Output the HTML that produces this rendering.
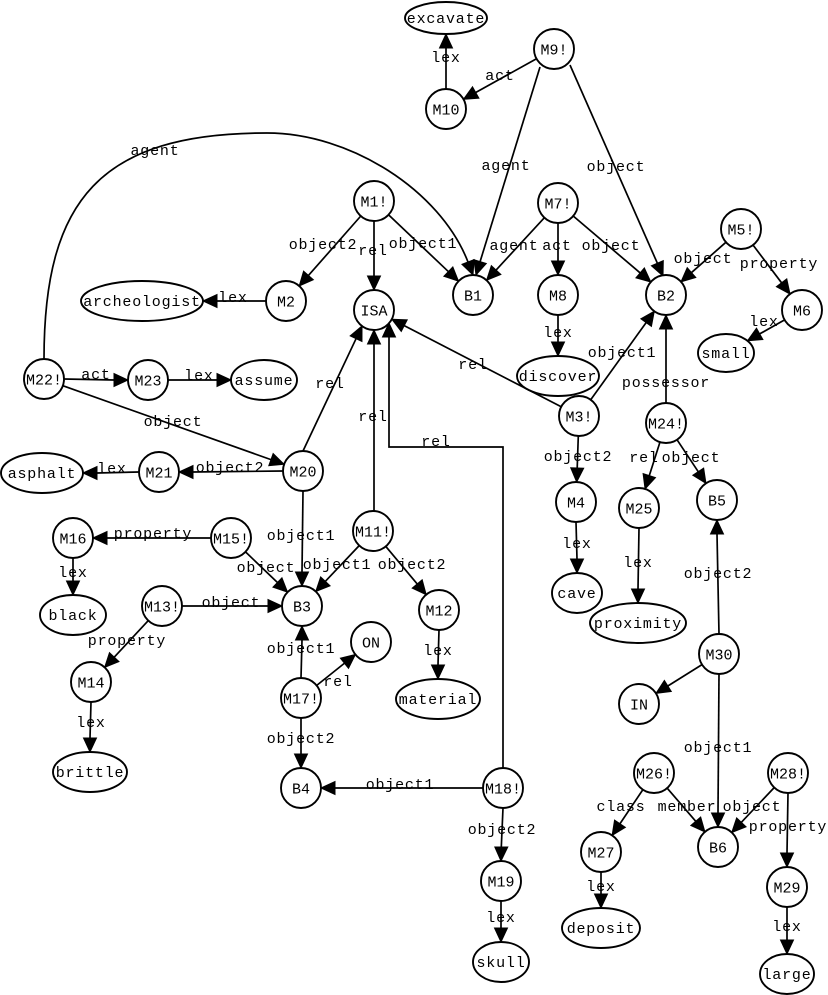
<!DOCTYPE html>
<html><head><meta charset="utf-8"><style>
html,body{margin:0;padding:0;background:#fff;}
svg{display:block;}
text{font-family:"Liberation Mono","DejaVu Sans Mono",monospace;font-size:15px;fill:#000;text-anchor:middle;}
.e{letter-spacing:0.8px;}
.n{letter-spacing:0px;}
</style></head><body>
<svg width="828" height="995" viewBox="0 0 828 995" xmlns="http://www.w3.org/2000/svg">
<rect width="828" height="995" fill="#fff"/>
<g fill="none" stroke="#000" stroke-width="1.7">
<line x1="446" y1="89" x2="446" y2="48"/>
<line x1="536.5" y1="58.7" x2="475.7" y2="92.5"/>
<line x1="540" y1="67" x2="480.1" y2="261.6"/>
<line x1="570" y1="65" x2="657.35" y2="263.19"/>
<line x1="360.8" y1="216" x2="308.45" y2="275.49"/>
<line x1="374" y1="221" x2="374" y2="276"/>
<line x1="388.5" y1="214.8" x2="448.35" y2="271.56"/>
<line x1="266" y1="301" x2="217" y2="301"/>
<line x1="544.4" y1="217.7" x2="496.1" y2="270.02"/>
<line x1="558" y1="223" x2="558" y2="261"/>
<line x1="573.2" y1="216" x2="640.14" y2="272.92"/>
<line x1="726" y1="242.2" x2="691.51" y2="272.55"/>
<line x1="753" y1="245" x2="781.58" y2="282.82"/>
<line x1="784.6" y1="319.85" x2="759.69" y2="333.9"/>
<line x1="558" y1="315" x2="558" y2="342"/>
<line x1="590.7" y1="399.8" x2="646.13" y2="322.57"/>
<line x1="666" y1="403" x2="666" y2="329"/>
<line x1="561.2" y1="406.8" x2="404.23" y2="325.63"/>
<line x1="578.3" y1="436" x2="577.2" y2="468"/>
<line x1="660" y1="442" x2="649.29" y2="475.6"/>
<line x1="677" y1="439.7" x2="698.23" y2="471.66"/>
<line x1="576" y1="522" x2="577" y2="559"/>
<line x1="639" y1="528" x2="638" y2="589"/>
<line x1="719" y1="634" x2="717" y2="534"/>
<line x1="702" y1="664.6" x2="667.83" y2="685.98"/>
<line x1="719" y1="674" x2="718" y2="813"/>
<line x1="642.9" y1="789.6" x2="619.95" y2="823.76"/>
<line x1="667.1" y1="788.1" x2="695.75" y2="821.28"/>
<line x1="774.3" y1="787.5" x2="741.36" y2="822.31"/>
<line x1="788" y1="793" x2="787" y2="853"/>
<line x1="601" y1="872" x2="601" y2="894"/>
<line x1="787" y1="907" x2="787" y2="940"/>
<line x1="503" y1="808" x2="501.3" y2="847"/>
<line x1="501" y1="901" x2="501" y2="928"/>
<line x1="483" y1="788" x2="335" y2="788"/>
<polyline points="503,768 503,447 389,447 389,337"/>
<line x1="301" y1="678" x2="302" y2="640"/>
<line x1="316.6" y1="685.5" x2="344.45" y2="663.25"/>
<line x1="301" y1="718" x2="301" y2="754"/>
<line x1="359.3" y1="545.5" x2="325.37" y2="581.31"/>
<line x1="385.8" y1="546.4" x2="417.19" y2="583.9"/>
<line x1="374" y1="511" x2="374" y2="344"/>
<line x1="439" y1="630" x2="438" y2="665"/>
<line x1="303" y1="491" x2="302" y2="572"/>
<line x1="303" y1="451" x2="356.06" y2="338.68"/>
<line x1="283" y1="471" x2="193" y2="472"/>
<line x1="139" y1="472" x2="97" y2="473"/>
<line x1="64" y1="379" x2="114" y2="380"/>
<line x1="168" y1="380" x2="217" y2="380"/>
<line x1="62.8" y1="385.7" x2="270.97" y2="459.62"/>
<path d="M44,359 C44,200 100,133 267,133 C350,133 440,190 468,262"/>
<line x1="211" y1="538" x2="107" y2="538"/>
<line x1="245.4" y1="551.8" x2="277.44" y2="582.47"/>
<line x1="73" y1="558" x2="73" y2="581"/>
<line x1="182" y1="606" x2="268" y2="606"/>
<line x1="148.3" y1="620.6" x2="114.21" y2="657.15"/>
<line x1="91" y1="702" x2="90" y2="738"/>
</g>
<g fill="#000" stroke="#000" stroke-width="1" stroke-linejoin="miter">
<polygon points="446,34 439.5,48 452.5,48"/>
<polygon points="463.5,99.3 472.5,86.8 478.9,98.2"/>
<polygon points="476,275 473.9,259.7 486.3,263.5"/>
<polygon points="663,276 651.4,265.8 663.3,260.6"/>
<polygon points="299.2,286 303.57,271.2 313.33,279.78"/>
<polygon points="374,290 367.5,276 380.5,276"/>
<polygon points="458.5,281.2 443.87,276.27 452.83,266.85"/>
<polygon points="203,301 217,294.5 217,307.5"/>
<polygon points="486.6,280.3 491.33,265.61 500.87,274.43"/>
<polygon points="558,275 551.5,261 564.5,261"/>
<polygon points="650.8,282 635.93,277.87 644.35,267.97"/>
<polygon points="681,281.8 687.22,267.67 695.8,277.43"/>
<polygon points="790,294 776.39,286.73 786.77,278.91"/>
<polygon points="747.5,340.8 756.49,328.24 762.89,339.56"/>
<polygon points="558,356 551.5,342 564.5,342"/>
<polygon points="654.3,311.2 651.41,326.37 640.85,318.77"/>
<polygon points="666,315 659.5,329 672.5,329"/>
<polygon points="391.8,319.2 407.22,319.86 401.24,331.4"/>
<polygon points="576.7,482 570.7,467.8 583.7,468.2"/>
<polygon points="645.05,488.94 643.1,473.63 655.48,477.57"/>
<polygon points="705.96,483.33 692.81,475.25 703.65,468.07"/>
<polygon points="577,573 570.5,559 583.5,559"/>
<polygon points="638,603 631.5,589 644.5,589"/>
<polygon points="717,520 710.5,534 723.5,534"/>
<polygon points="655.96,693.4 664.38,680.47 671.28,691.49"/>
<polygon points="718,827 711.5,813 724.5,813"/>
<polygon points="612.15,835.39 614.55,820.14 625.35,827.38"/>
<polygon points="704.91,831.87 690.83,825.53 700.67,817.03"/>
<polygon points="731.74,832.48 736.64,817.84 746.08,826.78"/>
<polygon points="787,867 780.5,853 793.5,853"/>
<polygon points="601,908 594.5,894 607.5,894"/>
<polygon points="787,954 780.5,940 793.5,940"/>
<polygon points="501,861 494.8,847 507.8,847"/>
<polygon points="501,942 494.5,928 507.5,928"/>
<polygon points="321,788 335,781.5 335,794.5"/>
<polygon points="389,323 382.5,337 395.5,337"/>
<polygon points="302,626 295.5,640 308.5,640"/>
<polygon points="355.38,654.5 348.51,668.33 340.39,658.17"/>
<polygon points="301,768 294.5,754 307.5,754"/>
<polygon points="315.75,591.48 320.65,576.84 330.09,585.78"/>
<polygon points="426.17,594.65 412.2,588.07 422.18,579.73"/>
<polygon points="374,330 367.5,344 380.5,344"/>
<polygon points="438,679 431.5,665 444.5,665"/>
<polygon points="302,586 295.5,572 308.5,572"/>
<polygon points="362,326 361.95,341.44 350.17,335.92"/>
<polygon points="179,472 193,465.5 193,478.5"/>
<polygon points="83,473 97,466.5 97,479.5"/>
<polygon points="128,380 114,373.5 114,386.5"/>
<polygon points="231,380 217,373.5 217,386.5"/>
<polygon points="284.16,464.31 268.79,465.74 273.15,453.5"/>
<polygon points="473,275 461.94,264.36 474.06,259.64"/>
<polygon points="93,538 107,531.5 107,544.5"/>
<polygon points="287.55,592.16 272.94,587.16 281.94,577.78"/>
<polygon points="73,595 66.5,581 79.5,581"/>
<polygon points="282,606 268,599.5 268,612.5"/>
<polygon points="104.65,667.38 109.46,652.71 118.96,661.59"/>
<polygon points="90,752 83.5,738 96.5,738"/>
</g>
<g fill="#fff" stroke="#000" stroke-width="1.9">
<circle cx="554" cy="49" r="20"/>
<circle cx="446" cy="109" r="20"/>
<circle cx="374" cy="201" r="20"/>
<circle cx="286" cy="301" r="20"/>
<circle cx="374" cy="310" r="20"/>
<circle cx="473" cy="295" r="20"/>
<circle cx="558" cy="203" r="20"/>
<circle cx="558" cy="295" r="20"/>
<circle cx="666" cy="295" r="20"/>
<circle cx="741" cy="229" r="20"/>
<circle cx="802" cy="310" r="20"/>
<circle cx="44" cy="379" r="20"/>
<circle cx="148" cy="380" r="20"/>
<circle cx="303" cy="471" r="20"/>
<circle cx="159" cy="472" r="20"/>
<circle cx="579" cy="416" r="20"/>
<circle cx="666" cy="423" r="20"/>
<circle cx="576" cy="502" r="20"/>
<circle cx="639" cy="508" r="20"/>
<circle cx="717" cy="500" r="20"/>
<circle cx="73" cy="538" r="20"/>
<circle cx="231" cy="538" r="20"/>
<circle cx="373" cy="531" r="20"/>
<circle cx="162" cy="606" r="20"/>
<circle cx="302" cy="606" r="20"/>
<circle cx="439" cy="610" r="20"/>
<circle cx="371" cy="642" r="20"/>
<circle cx="719" cy="654" r="20"/>
<circle cx="91" cy="682" r="20"/>
<circle cx="301" cy="698" r="20"/>
<circle cx="639" cy="704" r="20"/>
<circle cx="654" cy="773" r="20"/>
<circle cx="788" cy="773" r="20"/>
<circle cx="301" cy="788" r="20"/>
<circle cx="503" cy="788" r="20"/>
<circle cx="718" cy="847" r="20"/>
<circle cx="601" cy="852" r="20"/>
<circle cx="501" cy="881" r="20"/>
<circle cx="787" cy="887" r="20"/>
<ellipse cx="446" cy="18" rx="41" ry="16"/>
<ellipse cx="142" cy="301" rx="61" ry="20"/>
<ellipse cx="726" cy="353" rx="28" ry="19"/>
<ellipse cx="558" cy="376" rx="41" ry="20"/>
<ellipse cx="264" cy="380" rx="33" ry="20"/>
<ellipse cx="42" cy="473" rx="41" ry="20"/>
<ellipse cx="577" cy="593" rx="25" ry="20"/>
<ellipse cx="73" cy="615" rx="33" ry="20"/>
<ellipse cx="638" cy="623" rx="48" ry="20"/>
<ellipse cx="438" cy="699" rx="42" ry="20"/>
<ellipse cx="90" cy="772" rx="37" ry="20"/>
<ellipse cx="601" cy="928" rx="39" ry="20"/>
<ellipse cx="501" cy="962" rx="28" ry="20"/>
<ellipse cx="787" cy="974" rx="27" ry="20"/>
</g>
<g class="n">
<text x="554" y="54.5">M9!</text>
<text x="446" y="114.5">M10</text>
<text x="374" y="206.5">M1!</text>
<text x="286" y="306.5">M2</text>
<text x="374" y="315.5">ISA</text>
<text x="473" y="300.5">B1</text>
<text x="558" y="208.5">M7!</text>
<text x="558" y="300.5">M8</text>
<text x="666" y="300.5">B2</text>
<text x="741" y="234.5">M5!</text>
<text x="802" y="315.5">M6</text>
<text x="44" y="384.5">M22!</text>
<text x="148" y="385.5">M23</text>
<text x="303" y="476.5">M20</text>
<text x="159" y="477.5">M21</text>
<text x="579" y="421.5">M3!</text>
<text x="666" y="428.5">M24!</text>
<text x="576" y="507.5">M4</text>
<text x="639" y="513.5">M25</text>
<text x="717" y="505.5">B5</text>
<text x="73" y="543.5">M16</text>
<text x="231" y="543.5">M15!</text>
<text x="373" y="536.5">M11!</text>
<text x="162" y="611.5">M13!</text>
<text x="302" y="611.5">B3</text>
<text x="439" y="615.5">M12</text>
<text x="371" y="647.5">ON</text>
<text x="719" y="659.5">M30</text>
<text x="91" y="687.5">M14</text>
<text x="301" y="703.5">M17!</text>
<text x="639" y="709.5">IN</text>
<text x="654" y="778.5">M26!</text>
<text x="788" y="778.5">M28!</text>
<text x="301" y="793.5">B4</text>
<text x="503" y="793.5">M18!</text>
<text x="718" y="852.5">B6</text>
<text x="601" y="857.5">M27</text>
<text x="501" y="886.5">M19</text>
<text x="787" y="892.5">M29</text>
</g>
<g class="e">
<text x="446" y="23">excavate</text>
<text x="142" y="306">archeologist</text>
<text x="726" y="358">small</text>
<text x="558" y="381">discover</text>
<text x="264" y="385">assume</text>
<text x="42" y="478">asphalt</text>
<text x="577" y="598">cave</text>
<text x="73" y="620">black</text>
<text x="638" y="628">proximity</text>
<text x="438" y="704">material</text>
<text x="90" y="777">brittle</text>
<text x="601" y="933">deposit</text>
<text x="501" y="967">skull</text>
<text x="787" y="979">large</text>

<text x="446" y="62">lex</text>
<text x="500" y="80">act</text>
<text x="506" y="170">agent</text>
<text x="616" y="171">object</text>
<text x="155" y="155">agent</text>
<text x="323" y="249">object2</text>
<text x="373" y="255">rel</text>
<text x="423" y="248">object1</text>
<text x="233" y="302">lex</text>
<text x="514" y="250">agent</text>
<text x="557" y="250">act</text>
<text x="611" y="250">object</text>
<text x="703" y="263">object</text>
<text x="779" y="268">property</text>
<text x="764" y="326">lex</text>
<text x="558" y="337">lex</text>
<text x="622" y="357">object1</text>
<text x="666" y="387">possessor</text>
<text x="473" y="369">rel</text>
<text x="578" y="461">object2</text>
<text x="644" y="462">rel</text>
<text x="691" y="462">object</text>
<text x="577" y="548">lex</text>
<text x="638" y="567">lex</text>
<text x="718" y="578">object2</text>
<text x="718" y="752">object1</text>
<text x="621" y="811">class</text>
<text x="687" y="811">member</text>
<text x="752" y="811">object</text>
<text x="788" y="831">property</text>
<text x="601" y="891">lex</text>
<text x="787" y="931">lex</text>
<text x="502" y="834">object2</text>
<text x="501" y="922">lex</text>
<text x="400" y="789">object1</text>
<text x="436" y="446">rel</text>
<text x="301" y="653">object1</text>
<text x="338" y="686">rel</text>
<text x="301" y="743">object2</text>
<text x="337" y="569">object1</text>
<text x="412" y="569">object2</text>
<text x="373" y="421">rel</text>
<text x="438" y="655">lex</text>
<text x="301" y="540">object1</text>
<text x="330" y="388">rel</text>
<text x="230" y="472">object2</text>
<text x="112" y="473">lex</text>
<text x="96" y="379">act</text>
<text x="199" y="380">lex</text>
<text x="173" y="426">object</text>
<text x="153" y="538">property</text>
<text x="266" y="572">object</text>
<text x="73" y="577">lex</text>
<text x="231" y="607">object</text>
<text x="127" y="645">property</text>
<text x="91" y="727">lex</text>
</g>
</svg>
</body></html>
